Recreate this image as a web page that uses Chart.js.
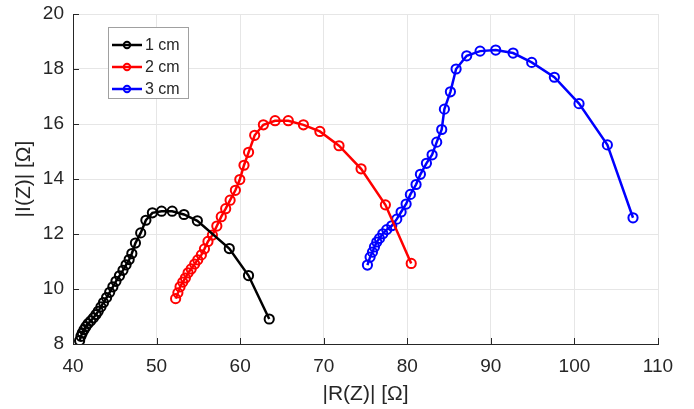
<!DOCTYPE html>
<html>
<head>
<meta charset="utf-8">
<script src="https://cdn.jsdelivr.net/npm/chart.js@4.4.1/dist/chart.umd.min.js"></script>
<style>
  html, body { margin: 0; padding: 0; background: #fff; }
  #wrap { width: 694px; height: 409px; }
</style>
</head>
<body>
<div id="wrap"><canvas id="nyquist"></canvas></div>
<script>
// |R(Z)| and |I(Z)|, one pair of arrays per sample length
var seriesNames = ['1 cm', '2 cm', '3 cm'];
var seriesColors = ['#000000', '#ff0000', '#0000ff'];

var r1 = [40.79, 40.95, 41.11, 41.32, 41.54, 41.80, 42.12, 42.44, 42.75, 43.02, 43.34, 43.65, 44.02, 44.39, 44.77, 45.14, 45.56, 45.98, 46.35, 46.72, 47.04, 47.47, 48.10, 48.72, 49.50, 50.60, 51.87, 53.28, 54.88, 58.70, 61.00, 63.48];
var i1 = [8.12, 8.28, 8.40, 8.52, 8.63, 8.74, 8.84, 8.95, 9.07, 9.19, 9.35, 9.51, 9.69, 9.88, 10.08, 10.28, 10.48, 10.68, 10.88, 11.07, 11.29, 11.67, 12.04, 12.50, 12.77, 12.83, 12.83, 12.71, 12.48, 11.47, 10.49, 8.91];

var r2 = [52.28, 52.55, 52.81, 53.13, 53.45, 53.77, 54.14, 54.56, 54.93, 55.36, 55.73, 56.15, 56.68, 57.21, 57.74, 58.27, 58.80, 59.43, 59.96, 60.46, 61.01, 61.74, 62.78, 64.18, 65.76, 67.57, 69.54, 71.83, 74.47, 77.38, 80.47];
var i2 = [9.65, 9.86, 10.08, 10.25, 10.40, 10.59, 10.73, 10.91, 11.06, 11.24, 11.46, 11.73, 11.96, 12.29, 12.63, 12.92, 13.23, 13.59, 13.98, 14.50, 14.97, 15.59, 15.97, 16.12, 16.12, 15.97, 15.73, 15.21, 14.37, 13.06, 10.93];

var r3 = [75.23, 75.55, 75.83, 76.07, 76.35, 76.67, 77.07, 77.54, 78.14, 78.74, 79.26, 79.86, 80.37, 81.05, 81.57, 82.29, 82.97, 83.52, 84.12, 84.44, 85.16, 85.84, 87.11, 88.71, 90.58, 92.66, 94.89, 97.60, 100.55, 103.94, 107.01];
var i3 = [10.87, 11.16, 11.34, 11.53, 11.71, 11.84, 12.01, 12.16, 12.30, 12.54, 12.80, 13.09, 13.44, 13.80, 14.17, 14.57, 14.88, 15.34, 15.80, 16.54, 17.17, 18.00, 18.48, 18.65, 18.69, 18.58, 18.24, 17.70, 16.74, 15.24, 12.59];

var xTicks = [40, 50, 60, 70, 80, 90, 100, 110];
var yTicks = [8, 10, 12, 14, 16, 18, 20];

function pairs(xs, ys) {
    return xs.map(function(x, k) { return { x: x, y: ys[k] }; });
}

var allR = [r1, r2, r3];
var allI = [i1, i2, i3];

var datasets = seriesNames.map(function(name, k) {
    return {
        label: name,
        data: pairs(allR[k], allI[k]),
        showLine: true,
        borderColor: seriesColors[k],
        backgroundColor: 'rgba(0,0,0,0)',
        borderWidth: 2.5,
        pointRadius: 4.6,
        pointBorderWidth: 2,
        pointBorderColor: seriesColors[k],
        pointBackgroundColor: 'rgba(0,0,0,0)',
        tension: 0
    };
});

// legend box drawn inside the plot, MATLAB style
var boxLegend = {
    id: 'boxLegend',
    afterDraw: function(chart) {
        var ctx = chart.ctx;
        var x0 = 108, y0 = 27, w = 80, h = 71;
        ctx.save();
        ctx.fillStyle = '#ffffff';
        ctx.fillRect(x0, y0, w, h);
        ctx.strokeStyle = '#a0a0a0';
        ctx.lineWidth = 1;
        ctx.strokeRect(x0 + 0.5, y0 + 0.5, w, h);
        ctx.font = '16px "Liberation Sans", Arial, sans-serif';
        ctx.textBaseline = 'middle';
        chart.data.datasets.forEach(function(ds, k) {
            var yy = y0 + 18 + k * 22;
            ctx.strokeStyle = ds.borderColor;
            ctx.lineWidth = 2.5;
            ctx.beginPath();
            ctx.moveTo(x0 + 4, yy);
            ctx.lineTo(x0 + 34, yy);
            ctx.stroke();
            ctx.lineWidth = 2;
            ctx.beginPath();
            ctx.arc(x0 + 19, yy, 3.2, 0, Math.PI * 2);
            ctx.stroke();
            ctx.fillStyle = '#262626';
            ctx.fillText(ds.label, x0 + 37, yy + 1);
        });
        ctx.restore();
    }
};

// small inward tick marks on the left and bottom axes
var innerTicks = {
    id: 'innerTicks',
    afterDatasetsDraw: function(chart) {
        var ctx = chart.ctx;
        var a = chart.chartArea;
        var sx = chart.scales.x, sy = chart.scales.y;
        ctx.save();
        ctx.strokeStyle = '#262626';
        ctx.lineWidth = 1;
        ctx.beginPath();
        xTicks.forEach(function(v) {
            var px = Math.round(sx.getPixelForValue(v)) + 0.5;
            ctx.moveTo(px, a.bottom);
            ctx.lineTo(px, a.bottom - 6);
        });
        yTicks.forEach(function(v) {
            var py = Math.round(sy.getPixelForValue(v)) + 0.5;
            ctx.moveTo(a.left, py);
            ctx.lineTo(a.left + 6, py);
        });
        ctx.stroke();
        ctx.restore();
    }
};

var tickFont = { family: '"Liberation Sans", Arial, sans-serif', size: 19 };
var titleFont = { family: '"Liberation Sans", Arial, sans-serif', size: 21 };

var chart = new Chart(document.getElementById('nyquist').getContext('2d'), {
    type: 'scatter',
    data: { datasets: datasets },
    plugins: [innerTicks, boxLegend],
    options: {
        responsive: true,
        maintainAspectRatio: false,
        animation: false,
        layout: { padding: { top: 14, right: 36, left: 0, bottom: 0 } },
        plugins: {
            legend: { display: false },
            tooltip: { enabled: false }
        },
        scales: {
            x: {
                type: 'linear',
                min: 40,
                max: 110,
                afterBuildTicks: function(axis) {
                    axis.ticks = xTicks.map(function(v) { return { value: v }; });
                },
                afterFit: function(axis) {
                    axis.height = 65;
                    axis.paddingLeft = 0;
                    axis.paddingRight = 0;
                },
                grid: { color: '#e6e6e6', lineWidth: 1, drawTicks: false },
                border: { color: '#262626', width: 1 },
                ticks: { color: '#262626', font: tickFont, padding: 11, maxRotation: 0 },
                title: {
                    display: true,
                    text: '|R(Z)| [Ω]',
                    color: '#262626',
                    font: titleFont,
                    padding: { top: 0, bottom: 2 }
                }
            },
            y: {
                type: 'linear',
                min: 8,
                max: 20,
                afterBuildTicks: function(axis) {
                    axis.ticks = yTicks.map(function(v) { return { value: v }; });
                },
                afterFit: function(axis) {
                    axis.width = 73;
                    axis.paddingTop = 0;
                    axis.paddingBottom = 0;
                },
                grid: { color: '#e6e6e6', lineWidth: 1, drawTicks: false },
                border: { color: '#262626', width: 1 },
                ticks: { color: '#262626', font: tickFont, padding: 9 },
                title: {
                    display: true,
                    text: '|I(Z)| [Ω]',
                    color: '#262626',
                    font: titleFont,
                    padding: { top: 12, bottom: 0 }
                }
            }
        }
    }
});
</script>
</body>
</html>
